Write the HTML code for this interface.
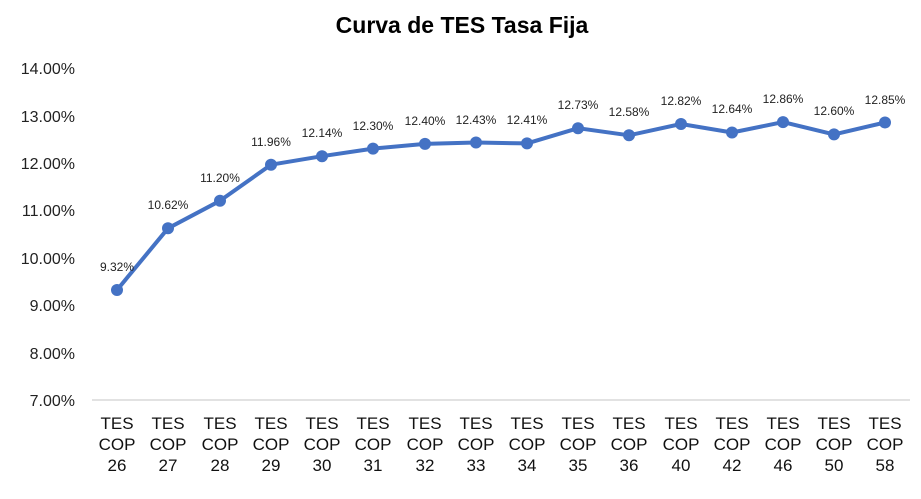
<!DOCTYPE html>
<html><head><meta charset="utf-8"><style>body{margin:0;background:#fff}svg{display:block}</style></head><body>
<svg width="921" height="499" xmlns="http://www.w3.org/2000/svg" font-family="Liberation Sans, sans-serif">
<text x="462" y="33" text-anchor="middle" font-size="23" font-weight="bold" fill="#000">Curva de TES Tasa Fija</text>
<g font-size="16" fill="#222" text-anchor="end">
<text x="75" y="406">7.00%</text><text x="75" y="359">8.00%</text><text x="75" y="311">9.00%</text><text x="75" y="264">10.00%</text><text x="75" y="216">11.00%</text><text x="75" y="169">12.00%</text><text x="75" y="122">13.00%</text><text x="75" y="74">14.00%</text>
</g>
<line x1="92" y1="400" x2="910" y2="400" stroke="#d9d9d9" stroke-width="1.5"/>
<polyline fill="none" stroke="#4472c4" stroke-width="4" stroke-linejoin="round" points="117,290 168,228.3 220,200.8 271,164.7 322,156.2 373,148.6 425,143.9 476,142.5 527,143.4 578,128.2 629,135.3 681,124 732,132.5 783,122.1 834,134.4 885,122.5"/>
<g fill="#4472c4">
<circle cx="117" cy="290" r="6"/><circle cx="168" cy="228.3" r="6"/><circle cx="220" cy="200.8" r="6"/><circle cx="271" cy="164.7" r="6"/><circle cx="322" cy="156.2" r="6"/><circle cx="373" cy="148.6" r="6"/><circle cx="425" cy="143.9" r="6"/><circle cx="476" cy="142.5" r="6"/><circle cx="527" cy="143.4" r="6"/><circle cx="578" cy="128.2" r="6"/><circle cx="629" cy="135.3" r="6"/><circle cx="681" cy="124" r="6"/><circle cx="732" cy="132.5" r="6"/><circle cx="783" cy="122.1" r="6"/><circle cx="834" cy="134.4" r="6"/><circle cx="885" cy="122.5" r="6"/>
</g>
<g font-size="12" fill="#222" text-anchor="middle">
<text x="117" y="271">9.32%</text><text x="168" y="209">10.62%</text><text x="220" y="182">11.20%</text><text x="271" y="146">11.96%</text><text x="322" y="137">12.14%</text><text x="373" y="130">12.30%</text><text x="425" y="125">12.40%</text><text x="476" y="124">12.43%</text><text x="527" y="124">12.41%</text><text x="578" y="109">12.73%</text><text x="629" y="116">12.58%</text><text x="681" y="105">12.82%</text><text x="732" y="113">12.64%</text><text x="783" y="103">12.86%</text><text x="834" y="115">12.60%</text><text x="885" y="104">12.85%</text>
</g>
<g font-size="17" fill="#111" text-anchor="middle">
<g transform="translate(117,0)"><text y="429">TES</text><text y="450">COP</text><text y="471">26</text></g>
<g transform="translate(168,0)"><text y="429">TES</text><text y="450">COP</text><text y="471">27</text></g>
<g transform="translate(220,0)"><text y="429">TES</text><text y="450">COP</text><text y="471">28</text></g>
<g transform="translate(271,0)"><text y="429">TES</text><text y="450">COP</text><text y="471">29</text></g>
<g transform="translate(322,0)"><text y="429">TES</text><text y="450">COP</text><text y="471">30</text></g>
<g transform="translate(373,0)"><text y="429">TES</text><text y="450">COP</text><text y="471">31</text></g>
<g transform="translate(425,0)"><text y="429">TES</text><text y="450">COP</text><text y="471">32</text></g>
<g transform="translate(476,0)"><text y="429">TES</text><text y="450">COP</text><text y="471">33</text></g>
<g transform="translate(527,0)"><text y="429">TES</text><text y="450">COP</text><text y="471">34</text></g>
<g transform="translate(578,0)"><text y="429">TES</text><text y="450">COP</text><text y="471">35</text></g>
<g transform="translate(629,0)"><text y="429">TES</text><text y="450">COP</text><text y="471">36</text></g>
<g transform="translate(681,0)"><text y="429">TES</text><text y="450">COP</text><text y="471">40</text></g>
<g transform="translate(732,0)"><text y="429">TES</text><text y="450">COP</text><text y="471">42</text></g>
<g transform="translate(783,0)"><text y="429">TES</text><text y="450">COP</text><text y="471">46</text></g>
<g transform="translate(834,0)"><text y="429">TES</text><text y="450">COP</text><text y="471">50</text></g>
<g transform="translate(885,0)"><text y="429">TES</text><text y="450">COP</text><text y="471">58</text></g>
</g>
</svg>
</body></html>
